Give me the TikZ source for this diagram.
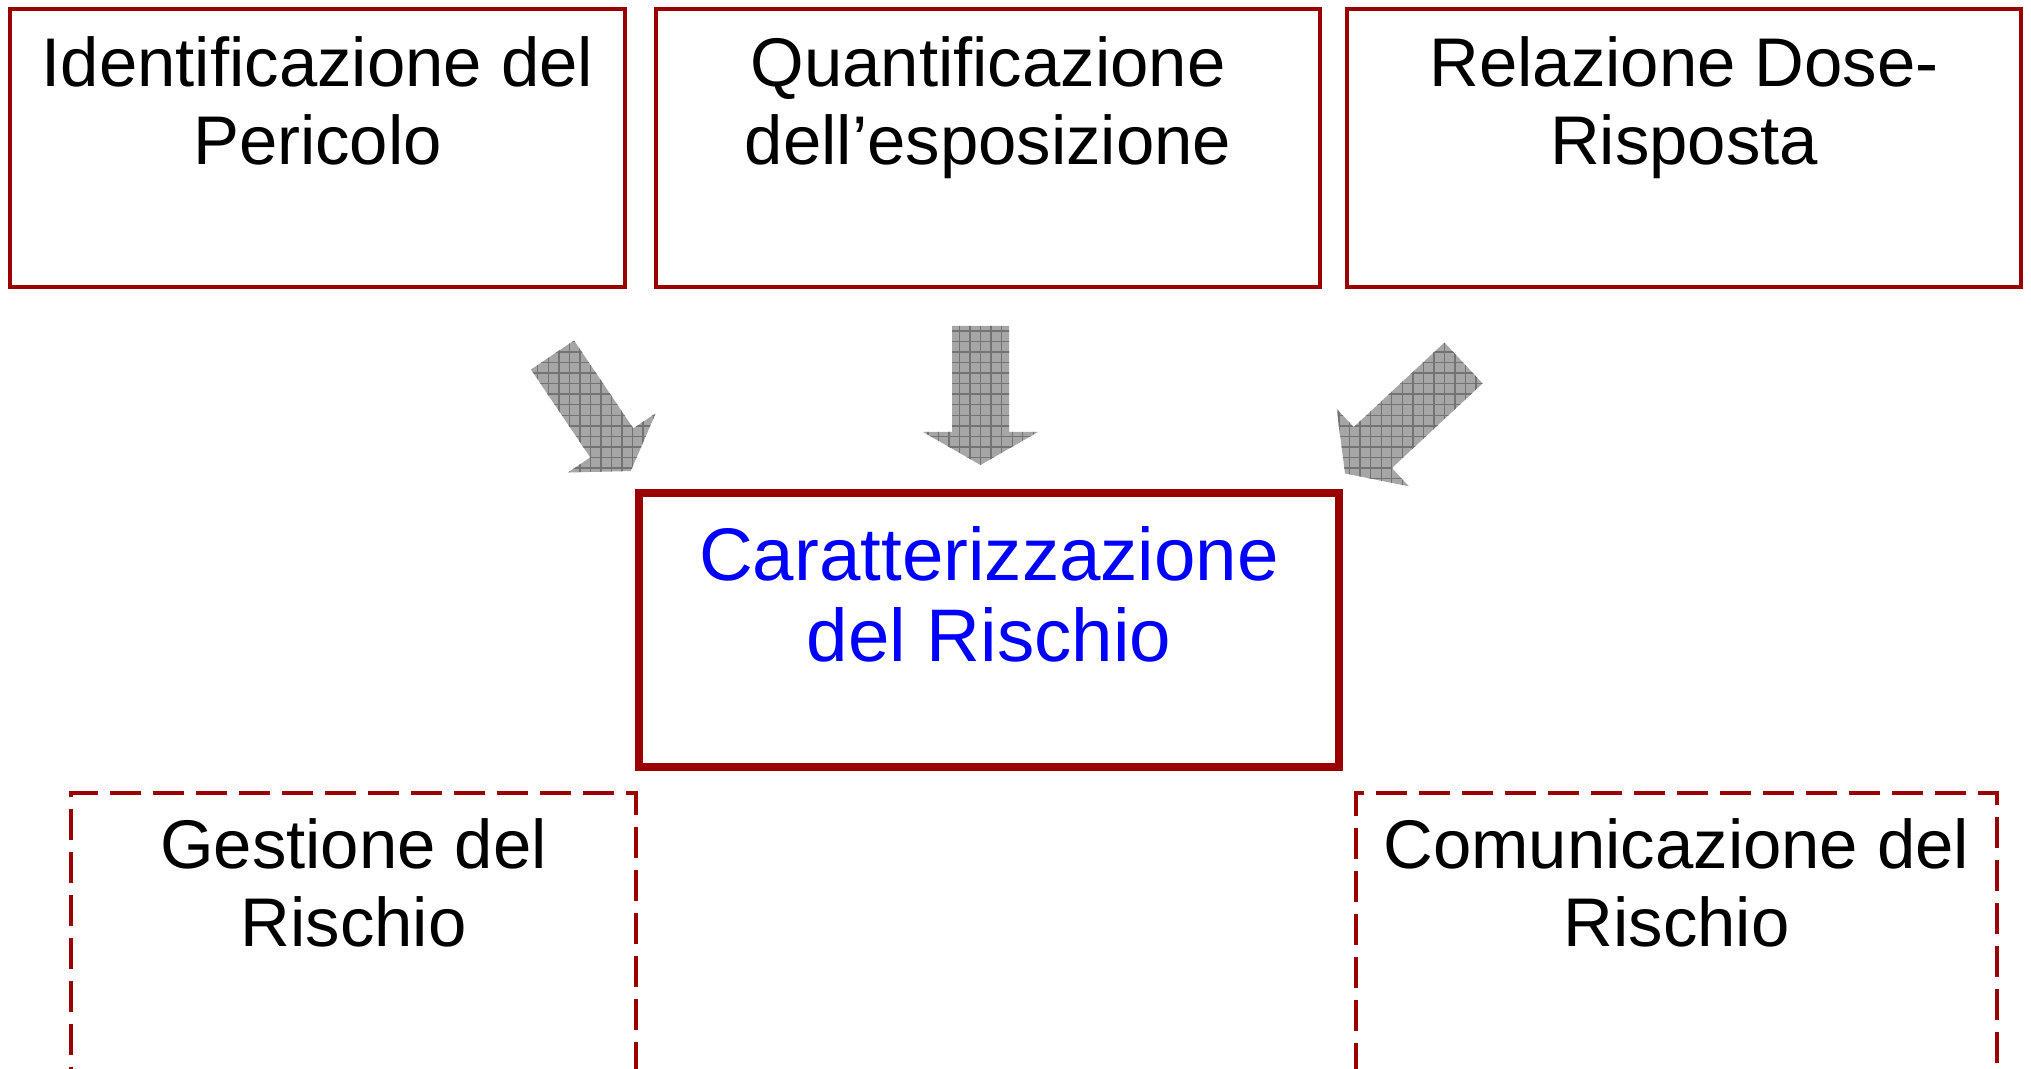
\documentclass[tikz,border=0pt]{standalone}
\usepackage{fontspec}
\setmainfont{Liberation Sans}
\usetikzlibrary{calc,patterns}

\definecolor{rischiored}{RGB}{155,0,0}

\tikzset{
  topbox/.style={draw=rischiored,line width=1pt,minimum height=2.78cm,inner sep=0pt},
  mainbox/.style={draw=rischiored,line width=2.3pt,minimum width=7cm,minimum height=2.74cm,inner sep=0pt},
  dashbox/.style={draw=rischiored,line width=1pt,dash pattern=on 0.31cm off 0.12cm,minimum height=3.6cm,inner sep=0pt},
  txt/.style={align=center,inner sep=0pt,anchor=base,font=\fontsize{19.6pt}{22.2pt}\selectfont},
  bigtxt/.style={txt,text=blue,font=\fontsize{21.2pt}{23.3pt}\selectfont},
  blockarr/.style={preaction={fill=gray!70},pattern=grid,pattern color=black!55},
}

\begin{document}
\begin{tikzpicture}
\useasboundingbox (0,0) rectangle (20.31,-10.69);
\clip (0,0) rectangle (20.31,-10.69);

% the three input steps
\node[topbox,minimum width=6.15cm] (ident) at (3.175,-1.48) {};
\node[topbox,minimum width=6.64cm] (quant) at (9.88,-1.48) {};
\node[topbox,minimum width=6.74cm] (dose) at (16.84,-1.48) {};
\node[txt] at ([yshift=-1.57cm]ident.north) {Identificazione del\\Pericolo};
\node[txt] at ([yshift=-1.57cm]quant.north) {Quantificazione\\dell’esposizione};
\node[txt] at ([yshift=-1.57cm]dose.north) {Relazione Dose-\\Risposta};

% risk characterisation
\node[mainbox] (caratt) at (9.89,-6.30) {};
\node[bigtxt] at ([yshift=-1.73cm]caratt.north) {Caratterizzazione\\del Rischio};

% management and communication
\node[dashbox,minimum width=5.645cm] (gest) at (3.535,-9.73) {};
\node[dashbox,minimum width=6.41cm] (comun) at (16.765,-9.73) {};
\node[txt] at ([yshift=-1.55cm]gest.north) {Gestione del\\Rischio};
\node[txt] at ([yshift=-1.55cm]comun.north) {Comunicazione del\\Rischio};

% block arrows
\foreach\sx/\sy/\ang/\len/\hl/\w/\h in {5.525/-3.55/-56/1.06/0.34/0.26/0.53,
  9.805/-3.26/-90/1.06/0.33/0.285/0.575, 14.635/-3.63/-137/1.24/0.38/0.28/0.53} {
\begin{scope}[shift={(\sx,\sy)},rotate=\ang]
\path[blockarr] (0,\w)--(\len,\w)--(\len,\h)--(\len+\hl,0)--(\len,-\h)--(\len,-\w)--(0,-\w)--cycle;
\end{scope}}
\end{tikzpicture}
\end{document}
